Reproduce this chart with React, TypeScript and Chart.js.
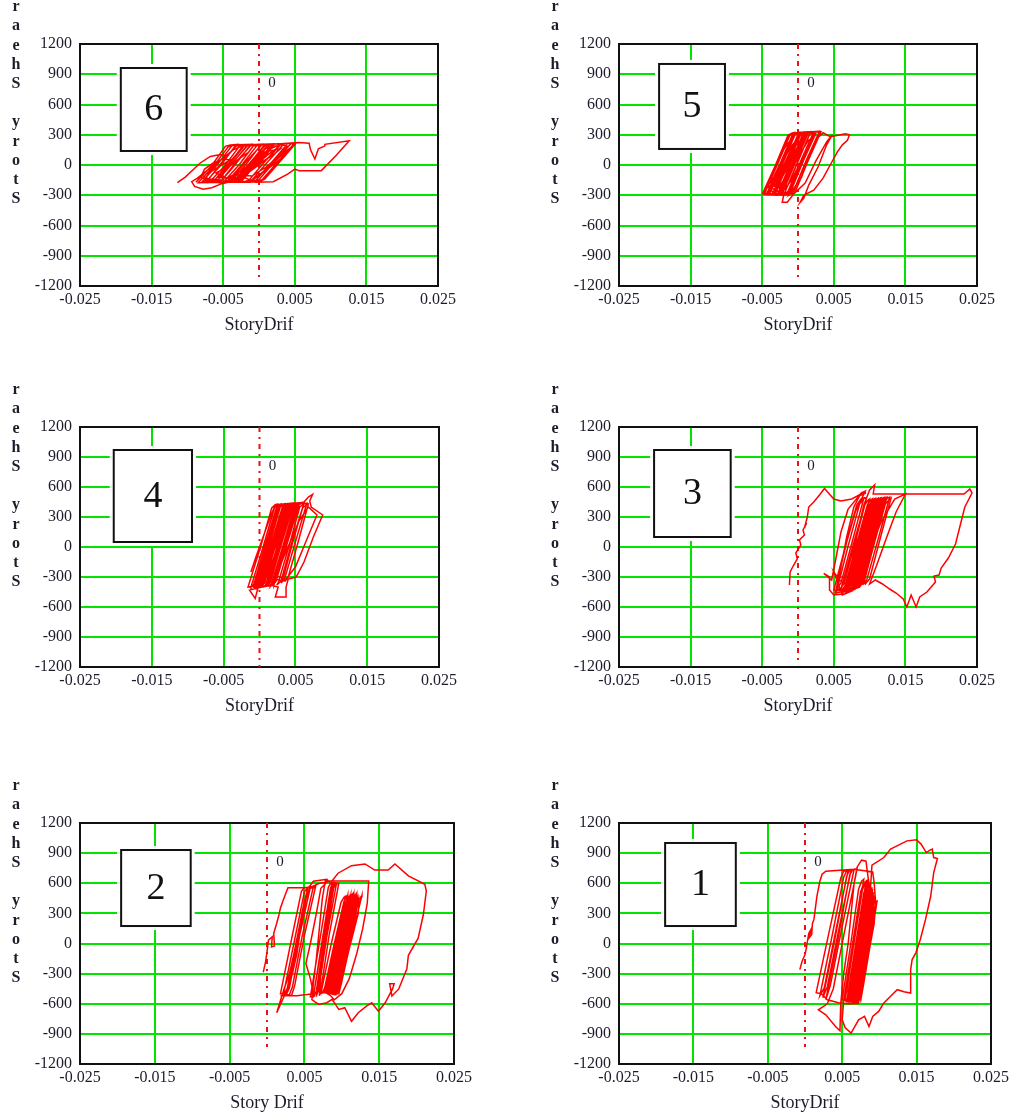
import React, { useEffect, useRef } from "react";
import { Chart, registerables } from "chart.js";

Chart.register(...registerables);

// ---------- data ----------
const driftTicks = [-0.025, -0.015, -0.005, 0.005, 0.015, 0.025];
const driftTickLabels = ["-0.025", "-0.015", "-0.005", "0.005", "0.015", "0.025"];
const shearTicks = [-1200, -900, -600, -300, 0, 300, 600, 900, 1200];
const shearTickLabels = ["-1200", "-900", "-600", "-300", "0", "300", "600", "900", "1200"];
const yAxisTitle = "Story Shear";
const markerLabel = "0";
const markerTop = 1200;

// story 6 : [drift, shear]
const loop6: [number, number][] = [
  [-0.0114, -174], [-0.0103, -120], [-0.0094, -60], [-0.0082, 20], [-0.0068, 85], [-0.0054, 105],
  [-0.0044, 90], [-0.0058, 30], [-0.0072, -50], [-0.0086, -130], [-0.0094, -165], [-0.009, -212],
  [-0.0078, -240], [-0.0066, -225], [-0.0052, -185], [-0.0034, -160], [-0.0016, -60], [0.0002, 80],
  [0.0016, 160], [0.003, 205], [0.0044, 215], [0.005, 200], [0.0034, 110], [0.001, -40],
  [-0.001, -160], [-0.0036, -172], [-0.0062, -168], [-0.0076, -145], [-0.0068, -60], [-0.0052, 60],
  [-0.0036, 150], [-0.0022, 195], [0.0, 205], [0.0022, 208], [0.0012, 120], [-0.0008, -20],
  [-0.0026, -150], [-0.0048, -175], [-0.007, -160], [-0.0082, -120], [-0.0088, -170],
  [-0.0066, -5], [-0.0047, 185], [-0.004, 198], [-0.003, 204], [-0.0052, 25], [-0.0072, -155], [-0.008, -172],
  [-0.0058, 5], [-0.0038, 190], [-0.003, 200], [-0.001, 206], [-0.0032, 30], [-0.0052, -150], [-0.0062, -168],
  [-0.007, -175], [-0.0048, -10], [-0.0028, 180], [-0.002, 196], [0.0005, 208], [-0.0018, 35], [-0.004, -150], [-0.0048, -170],
  [-0.006, -168], [-0.0038, 10], [-0.0017, 192], [-0.001, 202], [0.002, 210], [-0.0004, 25], [-0.0025, -155], [-0.0034, -172],
  [-0.005, -172], [-0.0028, 0], [-0.0008, 188], [0.0, 200], [0.0035, 212], [0.0012, 30], [-0.001, -150], [-0.0018, -170],
  [-0.004, -170], [-0.0018, 8], [0.0002, 195], [0.001, 204], [0.0045, 215], [0.0022, 35], [0.0, -145], [-0.0008, -168],
  [-0.003, -165], [-0.0008, 15], [0.0012, 198], [0.002, 206], [0.0052, 220], [0.003, 40], [0.0008, -140], [0.0, -165],
  [-0.0075, -170], [-0.0053, 0], [-0.0034, 182], [-0.0027, 196], [-0.002, 200], [-0.0042, 20], [-0.0062, -150], [-0.007, -168],
  [-0.0065, -172], [-0.0043, -5], [-0.0023, 186], [-0.0016, 198], [0.001, 205], [-0.0012, 28], [-0.0034, -148], [-0.0042, -170],
  [-0.0055, -175], [-0.0033, 5], [-0.0013, 190], [-0.0006, 200], [0.003, 210], [0.0008, 32], [-0.0014, -150], [-0.0022, -172],
  [-0.0045, -168], [-0.0023, 10], [-0.0003, 192], [0.0004, 202], [0.004, 212], [0.0018, 30], [-0.0004, -150], [-0.0012, -170],
  [-0.0035, -170], [-0.0013, 12], [0.0007, 195], [0.0014, 205], [0.005, 218], [0.0027, 38], [0.0005, -142], [-0.0003, -166],
  [-0.0085, -176], [-0.0063, -8], [-0.0043, 180], [-0.0036, 194], [-0.0015, 200], [-0.0037, 22], [-0.0058, -152], [-0.0066, -172],
  [-0.006, -170], [-0.004, 20], [-0.002, 195], [0.0015, 205], [-0.0008, 30], [-0.003, -150], [-0.0038, -168],
  [-0.0025, -165], [-0.0003, 18], [0.0017, 200], [0.0025, 208], [0.0055, 222], [0.007, 215], [0.0072, 150],
  [0.0078, 60], [0.0083, 160], [0.0092, 190], [0.0092, 205], [0.0126, 240], [0.0107, 90],
  [0.0087, -56], [0.0056, -56], [0.005, -40], [0.004, -90], [0.002, -165], [-0.0005, -172],
  [-0.0025, -110], [-0.001, 40], [0.0008, 160], [0.0026, 210], [0.004, 185], [0.0022, 60],
  [0.0004, -80], [-0.0014, -165],
  [-0.0072, -140], [-0.008, -100], [-0.0076, -40], [-0.0064, 20], [-0.005, 60], [-0.004, 50], [-0.0052, 0],
  [-0.0066, -60], [-0.0074, -120], [-0.0068, -165], [-0.005, -170], [-0.003, -120], [-0.0015, -20], [0.0, 80],
  [0.0012, 140], [0.0006, 60], [-0.001, -40], [-0.0026, -110], [-0.004, -150], [-0.002, -100], [-0.0004, 0],
  [0.0012, 100], [0.0026, 170], [0.0016, 90], [-0.0002, -10], [-0.0018, -90], [-0.0034, -140], [-0.0058, -120],
  [-0.0046, -40], [-0.003, 50], [-0.0016, 120], [-0.0028, 60], [-0.0044, -20], [-0.006, -80], [-0.0045, -130],
  [-0.0025, -60], [-0.0008, 40], [0.0008, 130], [0.003, 160], [0.002, 100], [0.0002, 20], [-0.0014, -60],
  [-0.003, -100], [-0.001, -110], [0.001, -20], [0.0028, 90], [0.004, 150], [0.003, 60], [0.0012, -40], [-0.0005, -130],
];

// story 5
const loop5: [number, number][] = [
  [-0.005, -290], [-0.0032, -10], [-0.0014, 295], [-0.0008, 318], [-0.0005, 322], [-0.0023, 40], [-0.0041, -270], [-0.0047, -292],
  [-0.0047, -288], [-0.0029, 0], [-0.0011, 300], [-0.0005, 320], [0.0002, 324], [-0.0016, 30], [-0.0034, -275], [-0.004, -295],
  [-0.0044, -292], [-0.0026, -5], [-0.0008, 298], [-0.0002, 320], [0.0008, 326], [-0.001, 25], [-0.0028, -278], [-0.0034, -296],
  [-0.004, -290], [-0.0022, 5], [-0.0004, 302], [0.0002, 322], [0.0012, 328], [-0.0006, 35], [-0.0024, -270], [-0.003, -300],
  [-0.0036, -295], [-0.0018, 0], [0.0, 305], [0.0006, 323], [0.0018, 330], [0.0, 40], [-0.0018, -265], [-0.0024, -298],
  [-0.0032, -290], [-0.0014, 10], [0.0004, 306], [0.001, 324], [0.0022, 330], [0.0004, 45], [-0.0014, -262], [-0.002, -295],
  [-0.0028, -288], [-0.001, 12], [0.0008, 308], [0.0014, 325], [0.0026, 332], [0.0008, 50], [-0.001, -260], [-0.0016, -292],
  [-0.0024, -285], [-0.0006, 15], [0.0012, 310], [0.0018, 326], [0.003, 333], [0.0012, 55], [-0.0006, -255], [-0.0012, -290],
  [-0.002, -300], [-0.0002, 0], [0.0016, 305], [0.0022, 325], [0.0032, 330], [0.0014, 40], [-0.0004, -270], [-0.0015, -370],
  [-0.0022, -370], [-0.002, -300], [-0.0048, -285], [-0.003, 20], [-0.0012, 305], [-0.0006, 320], [0.0005, 324], [-0.0013, 45],
  [-0.0031, -260], [-0.0037, -290], [-0.0042, -290], [-0.0024, 10], [-0.0006, 302], [0.0, 322], [0.0015, 328], [-0.0003, 35],
  [-0.0021, -268], [-0.0027, -296], [-0.0034, -286], [-0.0016, 18], [0.0002, 308], [0.0008, 324], [0.0024, 331], [0.0006, 48],
  [-0.0012, -258], [-0.0018, -292], [-0.0026, -290], [-0.0008, 8], [0.001, 306], [0.0016, 324], [0.003, 332], [0.0012, 45],
  [-0.0006, -262], [-0.0012, -294], [0.0005, -120], [0.0015, 80], [0.0025, 250], [0.0035, 320], [0.0045, 280], [0.0056, 295],
  [0.0066, 310], [0.0072, 300], [0.0069, 245], [0.0062, 200], [0.0055, 130], [0.0045, 0], [0.0035, -130], [0.0022, -250],
  [0.0008, -300], [0.0003, -370], [0.0008, -330], [0.0015, -200], [0.0028, -20], [0.004, 200], [0.0048, 300], [0.004, 230],
  [0.0025, 40], [0.001, -180], [-0.0005, -280], [-0.002, -300], [-0.0035, -290],
  [-0.0038, -220], [-0.003, -100], [-0.002, 50], [-0.001, 180], [-0.0002, 250], [-0.001, 150], [-0.002, 0],
  [-0.003, -150], [-0.004, -240], [-0.0032, -200], [-0.0022, -60], [-0.0012, 100], [0.0, 220], [0.001, 280],
  [0.0002, 150], [-0.0008, 0], [-0.0018, -130], [-0.0028, -230], [-0.0018, -180], [-0.0008, -40], [0.0002, 100],
  [0.0014, 240], [0.002, 270], [0.001, 120], [0.0, -20], [-0.001, -160], [-0.002, -250], [-0.003, -260],
  [-0.0042, -200], [-0.0036, -80], [-0.0026, 80], [-0.0016, 200], [-0.0006, 280], [-0.0014, 180], [-0.0024, 30],
  [-0.0034, -120], [-0.0044, -230], [-0.0026, -170], [-0.0014, -20], [-0.0004, 140], [0.0006, 260],
];

// story 4
const loop4: [number, number][] = [
  [-0.0012, -250], [-0.0005, -100], [0.0005, 100], [0.0015, 300], [0.0022, 420], [0.0035, 430],
  [0.0048, 440], [0.004, 300], [0.0028, 50], [0.0015, -200], [0.0005, -380], [-0.0016, -400],
  [0.0001, -10], [0.0017, 390], [0.0022, 422], [0.0025, 428], [0.0008, 20], [-0.0008, -375], [-0.0013, -402],
  [-0.0012, -405], [0.0005, 0], [0.0021, 395], [0.0026, 424], [0.003, 430], [0.0013, 25], [-0.0003, -370], [-0.0008, -400],
  [-0.0008, -398], [0.0009, 5], [0.0025, 400], [0.003, 425], [0.0035, 432], [0.0018, 30], [0.0002, -365], [-0.0003, -398],
  [-0.0004, -402], [0.0013, 8], [0.0029, 402], [0.0034, 426], [0.004, 434], [0.0023, 32], [0.0007, -362], [0.0002, -396],
  [0.0, -400], [0.0017, 10], [0.0033, 405], [0.0038, 428], [0.0044, 436], [0.0027, 35], [0.0011, -360], [0.0006, -395],
  [0.0004, -395], [0.0021, 12], [0.0037, 408], [0.0042, 430], [0.0048, 438], [0.0031, 40], [0.0015, -355], [0.001, -392],
  [0.0008, -392], [0.0025, 15], [0.0041, 410], [0.0046, 432], [0.0052, 440], [0.0035, 42], [0.0019, -350], [0.0014, -390],
  [0.0012, -388], [0.0029, 18], [0.0045, 412], [0.005, 434], [0.0056, 442], [0.0039, 45], [0.0023, -345], [0.0018, -386],
  [0.0016, -385], [0.0033, 20], [0.0049, 415], [0.0054, 436], [0.0062, 450], [0.0068, 500], [0.0074, 527], [0.007, 460],
  [0.0072, 400], [0.0088, 320], [0.0075, 100], [0.0062, -150], [0.0051, -300], [0.004, -320], [0.0037, -400], [0.0037, -500],
  [0.0022, -500], [0.0026, -400], [0.0015, -380], [-0.0014, -430], [-0.0006, -515], [0.0, -350], [0.001, -60], [0.0024, 380],
  [0.0029, 420], [0.0033, 425], [0.0016, 30], [0.0, -370], [-0.0006, -400], [0.0011, 8], [0.0027, 398], [0.0032, 424],
  [0.0038, 432], [0.0021, 28], [0.0005, -368], [0.0, -398], [0.0002, -398], [0.0019, 12], [0.0035, 404], [0.004, 428],
  [0.0046, 436], [0.0029, 36], [0.0013, -358], [0.0008, -394], [0.001, -390], [0.0027, 16], [0.0043, 410], [0.0048, 432],
  [0.0054, 440], [0.0037, 44], [0.0021, -348], [0.0016, -388], [0.0028, -200], [0.0042, 40], [0.0055, 260], [0.0068, 400],
  [0.008, 320], [0.0065, 60], [0.005, -200], [0.0035, -340], [0.002, -320],
  [0.002, -380], [0.0037, 25], [0.0052, 410], [0.0058, 435], [0.0062, 440], [0.0045, 45], [0.003, -340], [0.0024, -380],
  [0.0026, -360], [0.0042, 30], [0.0056, 400], [0.0062, 430], [0.0066, 438], [0.005, 50], [0.0035, -320], [0.003, -360],
  [0.0032, -340], [0.0046, 40], [0.006, 390], [0.0066, 425], [0.0068, 430], [0.0054, 55], [0.004, -300], [0.0036, -340],
  [0.001, -200], [0.002, 0], [0.0032, 250], [0.004, 330], [0.003, 150], [0.0018, -80], [0.0008, -260], [0.0, -300],
  [0.0012, -120], [0.0026, 150], [0.0036, 300], [0.0026, 100], [0.0012, -150], [-0.0004, -300], [0.0006, -150],
  [0.002, 100], [0.0034, 350], [0.0044, 400], [0.0036, 200], [0.0024, -50], [0.0014, -250],
];

// story 3
const loop3: [number, number][] = [
  [-0.0012, -380], [-0.0011, -250], [-0.0006, -180], [-0.0001, -120], [-0.0003, -60], [0.0004, 20],
  [0.0002, 70], [0.0009, 120], [0.0007, 170], [0.0012, 240], [0.0009, 190], [0.0013, 300],
  [0.0015, 400], [0.0022, 450], [0.003, 520], [0.0037, 585], [0.0045, 520], [0.005, 480],
  [0.006, 460], [0.0075, 480], [0.0088, 530], [0.0095, 540], [0.0085, 510], [0.007, 380],
  [0.006, 150], [0.0052, -150], [0.0047, -330], [0.0036, -265], [0.0044, -300], [0.0044, -430],
  [0.005, -480], [0.0062, -470], [0.0068, -380], [0.0076, -120], [0.0084, 180], [0.0092, 420],
  [0.01, 570], [0.0107, 620], [0.0105, 530], [0.015, 530], [0.0232, 530], [0.024, 580],
  [0.0243, 540], [0.0233, 400], [0.0227, 230], [0.022, 30], [0.021, -110], [0.02, -210],
  [0.0197, -280], [0.019, -290], [0.0192, -350], [0.018, -450], [0.017, -500], [0.0165, -600],
  [0.0158, -480], [0.0152, -600], [0.0147, -520], [0.0137, -460], [0.0128, -420], [0.0118, -370],
  [0.0108, -330], [0.01, -370], [0.011, -180], [0.0124, 100], [0.0137, 350], [0.015, 530],
  [0.0135, 480], [0.0116, 250], [0.01, -50], [0.0088, -330], [0.008, -420], [0.0052, -460],
  [0.006, -200], [0.0068, 100], [0.0078, 400], [0.0088, 540], [0.0094, 560], [0.008, 350],
  [0.0068, 50], [0.0058, -250], [0.0054, -420], [0.006, -420],
  [0.0077, 20], [0.0093, 420], [0.0098, 470], [0.01, 480], [0.0083, 50], [0.0067, -380], [0.0062, -420],
  [0.0064, -430], [0.0081, 10], [0.0097, 425], [0.0102, 472], [0.0104, 482], [0.0087, 45], [0.0071, -375], [0.0066, -425],
  [0.0068, -425], [0.0085, 15], [0.0101, 430], [0.0106, 475], [0.0108, 485], [0.0091, 55], [0.0075, -370], [0.007, -420],
  [0.0072, -415], [0.0089, 25], [0.0105, 432], [0.011, 478], [0.0112, 488], [0.0095, 60], [0.0079, -365], [0.0074, -415],
  [0.0076, -410], [0.0093, 30], [0.0109, 435], [0.0114, 480], [0.0116, 490], [0.0099, 62], [0.0083, -360], [0.0078, -410],
  [0.008, -405], [0.0097, 32], [0.0113, 438], [0.0118, 482], [0.012, 492], [0.0103, 65], [0.0087, -355], [0.0082, -405],
  [0.0084, -400], [0.0101, 35], [0.0117, 440], [0.0122, 485], [0.0124, 495], [0.0107, 70], [0.0091, -350], [0.0086, -400],
  [0.007, -440], [0.0087, 0], [0.0103, 418], [0.0108, 470], [0.011, 480], [0.0093, 40], [0.0077, -385], [0.0072, -430],
  [0.0078, -420], [0.0095, 20], [0.0111, 430], [0.0116, 476], [0.0118, 486], [0.0101, 52], [0.0085, -368], [0.008, -412],
  [0.0066, -450], [0.0083, -5], [0.0099, 415], [0.0104, 468], [0.0106, 478], [0.0089, 35], [0.0073, -390], [0.0068, -440],
  [0.0082, -395], [0.0099, 40], [0.0115, 442], [0.012, 486], [0.0122, 494], [0.0105, 68], [0.0089, -352], [0.0084, -398],
  [0.0074, -430], [0.0091, 10], [0.0107, 425], [0.0112, 474], [0.0114, 484], [0.0097, 48], [0.0081, -372], [0.0076, -420],
  [0.0058, -330], [0.005, -250], [0.0062, -480], [0.0075, -440],
  [0.005, -430], [0.0066, 0], [0.0082, 420], [0.0088, 480], [0.0092, 490], [0.0076, 60], [0.006, -360], [0.0054, -420],
  [0.0054, -440], [0.007, 10], [0.0086, 430], [0.0092, 485], [0.0096, 495], [0.008, 50], [0.0064, -370], [0.0058, -430],
  [0.0088, -380], [0.0104, 40], [0.012, 440], [0.0125, 490], [0.0128, 500], [0.0112, 80], [0.0096, -330], [0.009, -380],
  [0.0092, -360], [0.0107, 50], [0.0122, 430], [0.0128, 480], [0.013, 490], [0.0115, 90], [0.01, -320], [0.0094, -370],
  [0.0085, -200], [0.0095, 50], [0.0106, 300], [0.0112, 380], [0.0104, 200], [0.0092, -50], [0.0082, -280],
  [0.0076, -320], [0.0088, -100], [0.01, 150], [0.011, 330], [0.01, 120], [0.0088, -150], [0.0078, -300],
  [0.0092, -60], [0.0104, 220], [0.0114, 360], [0.0106, 180], [0.0094, -100], [0.0086, -260],
];

// story 2
const loop2: [number, number][] = [
  [-0.0005, -286], [-0.0002, -185], [0.0, -84], [0.0002, 34], [0.0007, 67], [0.0006, -34],
  [0.001, -24], [0.0009, 101], [0.0013, 202], [0.0016, 286], [0.0018, 354], [0.0022, 438],
  [0.0028, 556], [0.0065, 556], [0.0055, 560], [0.004, 50], [0.0027, -450], [0.0023, -500],
  [0.0018, -500], [0.0033, 50], [0.0046, 520], [0.005, 555], [0.0058, 562], [0.0043, 60],
  [0.003, -440], [0.0026, -505], [0.0022, -505], [0.0037, 40], [0.005, 515], [0.0054, 552],
  [0.0062, 565], [0.0047, 70], [0.0034, -430], [0.003, -510], [0.0026, -510], [0.0041, 30],
  [0.0054, 510], [0.0058, 550], [0.0065, 568], [0.005, 80], [0.0037, -420], [0.0033, -515],
  [0.0018, -520], [0.004, -520], [0.0062, -500], [0.0058, -350], [0.0052, -200], [0.0058, 0],
  [0.0066, 300], [0.0072, 550], [0.008, 610], [0.007, 600], [0.0058, 560], [0.005, 400],
  [0.0045, 150], [0.004, -100], [0.0034, -300], [0.0028, -440], [0.0013, -690], [0.0022, -470],
  [0.003, -300], [0.0036, -100], [0.0042, 120], [0.0048, 350], [0.0054, 540], [0.0062, 620],
  [0.008, 640], [0.0085, 600], [0.0088, 600], [0.0075, 50], [0.0063, -480], [0.006, -530],
  [0.0058, -530], [0.0071, 50], [0.0082, 560], [0.0085, 598], [0.009, 605], [0.0077, 60],
  [0.0066, -470], [0.0063, -525], [0.0062, -530], [0.0074, 40], [0.0085, 555], [0.0088, 595],
  [0.0093, 602], [0.008, 70], [0.0069, -465], [0.0066, -520], [0.0066, -528], [0.0078, 30],
  [0.0089, 550], [0.0092, 592], [0.0096, 600], [0.0083, 80], [0.0072, -460], [0.007, -520],
  [0.0074, -100], [0.0082, 300], [0.0087, 625], [0.0095, 700], [0.0113, 775], [0.0131, 792],
  [0.0144, 731], [0.0162, 731], [0.0171, 792], [0.0189, 674], [0.0211, 590], [0.0213, 522],
  [0.0209, 286], [0.0202, 50], [0.0198, 0], [0.0189, -118], [0.0187, -253], [0.0176, -455],
  [0.0167, -522], [0.0164, -400], [0.017, -400], [0.0168, -450], [0.0158, -590], [0.0149, -674],
  [0.014, -590], [0.0133, -623], [0.0122, -690], [0.0113, -775], [0.0104, -640], [0.0096, -657],
  [0.0087, -556], [0.008, -590], [0.0069, -607], [0.006, -560], [0.0062, -400], [0.0066, -150],
  [0.007, 150], [0.0074, 450], [0.0078, 623], [0.0136, 623], [0.0134, 400], [0.0128, 150],
  [0.012, -100], [0.011, -350], [0.01, -500], [0.009, -560], [0.0085, -520], [0.0076, -480],
  [0.009, 0], [0.0103, 420], [0.0107, 470], [0.0108, 480], [0.0094, 30], [0.0081, -420], [0.0077, -470],
  [0.008, -490], [0.0094, -10], [0.0107, 430], [0.0111, 475], [0.0112, 485], [0.0098, 40], [0.0085, -415], [0.0081, -480],
  [0.0084, -500], [0.0098, -20], [0.0111, 440], [0.0115, 480], [0.0116, 490], [0.0102, 50], [0.0089, -410], [0.0085, -490],
  [0.0088, -505], [0.0102, -30], [0.0115, 430], [0.0119, 470], [0.012, 480], [0.0106, 45], [0.0093, -400], [0.0089, -495],
  [0.0092, -510], [0.0106, -40], [0.0118, 400], [0.0121, 440], [0.0122, 450], [0.0109, 30], [0.0097, -395], [0.0093, -500],
  [0.0078, -470], [0.0092, 10], [0.0105, 410], [0.0109, 460], [0.011, 470], [0.0096, 35], [0.0083, -418], [0.0079, -475],
  [0.0082, -495], [0.0096, -5], [0.0109, 435], [0.0113, 478], [0.0114, 488], [0.01, 45], [0.0087, -412], [0.0083, -485],
  [0.0086, -500], [0.01, -25], [0.0113, 435], [0.0117, 475], [0.0118, 485], [0.0104, 48], [0.0091, -405], [0.0087, -492],
  [0.009, -508], [0.0104, -35], [0.0116, 415], [0.012, 455], [0.0121, 465], [0.0108, 38], [0.0095, -398], [0.0091, -500],
  [0.0096, -500], [0.0109, -30], [0.012, 380], [0.0123, 420], [0.0122, 300], [0.011, -50], [0.0099, -400],
  [0.0072, -500], [0.0086, 0], [0.0099, 410], [0.0103, 460], [0.0105, 470], [0.0091, 30], [0.0078, -430], [0.0074, -490],
  [0.0096, -480], [0.011, -20], [0.0122, 420], [0.0126, 470], [0.0127, 480], [0.0113, 60], [0.01, -380], [0.0097, -470],
  [0.009, -250], [0.01, 50], [0.011, 280], [0.0116, 350], [0.0108, 200], [0.0098, -50], [0.0088, -300],
  [0.0084, -380], [0.0094, -150], [0.0104, 120], [0.0112, 300], [0.0104, 100], [0.0094, -180], [0.0086, -350],
  [0.0098, -100], [0.0108, 200], [0.0118, 380], [0.011, 160], [0.01, -120], [0.0092, -320],
];

// story 1
const loop1: [number, number][] = [
  [-0.0007, -260], [-0.0004, -180], [0.0, -110], [0.0002, -40], [0.0003, 10], [0.0005, 100],
  [0.0008, 140], [0.0006, 60], [0.0009, 90], [0.001, 200], [0.0012, 240], [0.0016, 470],
  [0.002, 620], [0.0023, 690], [0.0028, 720], [0.0066, 740], [0.0091, 713], [0.0093, 600],
  [0.0095, 400], [0.0093, 200], [0.0088, 0], [0.008, -300], [0.0075, -500], [0.007, -600],
  [0.0058, -600], [0.0045, -590], [0.003, -560], [0.0022, -500], [0.0015, -490],
  [0.0032, 100], [0.0048, 650], [0.0052, 720], [0.0058, 730], [0.0042, 150], [0.0026, -440], [0.002, -520],
  [0.0036, 60], [0.0052, 660], [0.0056, 725], [0.0062, 735], [0.0046, 160], [0.003, -430], [0.0024, -540],
  [0.004, 40], [0.0056, 670], [0.006, 730], [0.0066, 740], [0.005, 170], [0.0034, -420], [0.0028, -560],
  [0.0044, 30], [0.006, 680], [0.0064, 735], [0.007, 745], [0.0054, 150], [0.0038, -450], [0.003, -600],
  [0.0018, -660], [0.0028, -710], [0.0041, -826], [0.0047, -870], [0.0048, -600], [0.0052, -300],
  [0.0058, 0], [0.0062, 300], [0.0066, 600], [0.007, 760], [0.0076, 830], [0.0082, 820],
  [0.0084, 700], [0.0088, 500], [0.009, 250], [0.0086, 0], [0.008, -250], [0.0075, -500],
  [0.007, -500], [0.0078, -200], [0.0084, 200], [0.0088, 550], [0.009, 780], [0.0106, 856],
  [0.0115, 940], [0.0137, 1022], [0.015, 1032], [0.0156, 990], [0.0163, 906], [0.0168, 930],
  [0.0171, 940], [0.0173, 856], [0.0178, 846], [0.0173, 706], [0.0169, 473], [0.0162, 240],
  [0.0155, 40], [0.0149, -93], [0.0144, -160], [0.0142, -260], [0.0142, -493], [0.0133, -480],
  [0.0124, -460], [0.0115, -526], [0.0106, -593], [0.0099, -676], [0.0091, -726], [0.0086, -826],
  [0.008, -726], [0.0072, -760], [0.0062, -893], [0.0054, -840], [0.005, -760], [0.0052, -570],
  [0.0064, 0], [0.0075, 520], [0.0079, 600], [0.0082, 620], [0.007, 50], [0.0059, -500], [0.0055, -575],
  [0.0056, -580], [0.0068, -10], [0.0079, 500], [0.0083, 580], [0.0085, 600], [0.0073, 40], [0.0062, -490], [0.0058, -578],
  [0.006, -585], [0.0072, -20], [0.0083, 480], [0.0087, 560], [0.0088, 580], [0.0076, 30], [0.0065, -480], [0.0062, -582],
  [0.0064, -590], [0.0076, -30], [0.0087, 450], [0.009, 520], [0.0091, 540], [0.008, 20], [0.0069, -470], [0.0066, -585],
  [0.0068, -595], [0.008, -40], [0.009, 400], [0.0093, 460], [0.0093, 480], [0.0083, 10], [0.0072, -460], [0.007, -590],
  [0.0054, -560], [0.0066, 10], [0.0077, 530], [0.0081, 610], [0.0084, 630], [0.0072, 60], [0.0061, -490], [0.0057, -565],
  [0.0058, -575], [0.007, 0], [0.0081, 490], [0.0085, 570], [0.0087, 590], [0.0075, 45], [0.0064, -485], [0.006, -575],
  [0.0062, -580], [0.0074, -10], [0.0085, 460], [0.0089, 540], [0.009, 560], [0.0078, 25], [0.0067, -475], [0.0064, -580],
  [0.0066, -590], [0.0078, -25], [0.0088, 430], [0.0092, 500], [0.0092, 510], [0.0081, 15], [0.007, -465], [0.0068, -588],
  [0.007, -595], [0.0081, -50], [0.0091, 380], [0.0094, 440], [0.0094, 450], [0.0084, 0], [0.0074, -455], [0.0072, -595],
  [0.005, -560], [0.0062, 20], [0.0072, 540], [0.0076, 620], [0.0079, 640], [0.0067, 70], [0.0056, -480], [0.0052, -560],
  [0.0074, -560], [0.0085, -40], [0.0094, 360], [0.0097, 420], [0.0097, 430], [0.0088, 0], [0.0078, -440], [0.0075, -560],
  [0.0068, -300], [0.0076, 0], [0.0084, 300], [0.0088, 400], [0.0082, 200], [0.0074, -100], [0.0066, -380],
  [0.0062, -450], [0.007, -200], [0.008, 150], [0.0088, 350], [0.008, 100], [0.0072, -200], [0.0064, -420],
  [0.0074, -150], [0.0084, 200], [0.0092, 330], [0.0084, 120], [0.0076, -150], [0.0068, -350],
];

// ---------- layout / style ----------
const SERIF = '"Liberation Serif", "Times New Roman", serif';
const GREEN = "#00e400";
const TEXT = "#1c1c2c";
const PAD_TOP = 44;
const PAD_RIGHT = 24;
const AXIS_W = 80;
const AXIS_H = 50;

type PanelCfg = {
  story: number;
  loop: [number, number][];
  plot: { l: number; t: number; r: number; b: number };
  box: [number, number, number, number];
  markerEnd: number;
  xTitle: string;
};

const panels: PanelCfg[] = [
  { story: 6, loop: loop6, plot: { l: 80, t: 44, r: 438, b: 286 }, box: [-0.0193, -0.0101, 962, 139], markerEnd: -1150, xTitle: "StoryDrif" },
  { story: 5, loop: loop5, plot: { l: 619, t: 44, r: 977, b: 286 }, box: [-0.0194, -0.0102, 1002, 159], markerEnd: -1150, xTitle: "StoryDrif" },
  { story: 4, loop: loop4, plot: { l: 80, t: 427, r: 439, b: 667 }, box: [-0.0203, -0.0094, 970, 50], markerEnd: -1200, xTitle: "StoryDrif" },
  { story: 3, loop: loop3, plot: { l: 619, t: 427, r: 977, b: 667 }, box: [-0.0201, -0.0094, 970, 100], markerEnd: -1160, xTitle: "StoryDrif" },
  { story: 2, loop: loop2, plot: { l: 80, t: 823, r: 454, b: 1064 }, box: [-0.0195, -0.0102, 931, 174], markerEnd: -1030, xTitle: "Story Drif" },
  { story: 1, loop: loop1, plot: { l: 619, t: 823, r: 991, b: 1064 }, box: [-0.0188, -0.0093, 1001, 174], markerEnd: -1030, xTitle: "StoryDrif" },
];

function labelFor(values: number[], labels: string[], v: number) {
  let best = 0;
  for (let i = 1; i < values.length; i++) {
    if (Math.abs(values[i] - v) < Math.abs(values[best] - v)) best = i;
  }
  return labels[best];
}

const decorPlugin = {
  id: "panelDecor",
  beforeDatasetsDraw(chart: any, _args: any, opts: any) {
    const { ctx, chartArea } = chart;
    const xs = chart.scales.x;
    const ys = chart.scales.y;
    ctx.save();
    const [d1, d2, s1, s2] = opts.box;
    const bx1 = xs.getPixelForValue(d1);
    const bx2 = xs.getPixelForValue(d2);
    const by1 = ys.getPixelForValue(s1);
    const by2 = ys.getPixelForValue(s2);
    ctx.fillStyle = "#ffffff";
    ctx.fillRect(bx1 - 4, by1 - 4, bx2 - bx1 + 8, by2 - by1 + 8);
    ctx.strokeStyle = "#111111";
    ctx.lineWidth = 2;
    ctx.strokeRect(bx1, by1, bx2 - bx1, by2 - by1);
    ctx.fillStyle = "#111111";
    ctx.font = `38px ${SERIF}`;
    ctx.textAlign = "center";
    ctx.textBaseline = "middle";
    ctx.fillText(String(opts.story), (bx1 + bx2) / 2, (by1 + by2) / 2 + 1);
    ctx.fillStyle = TEXT;
    ctx.font = `15px ${SERIF}`;
    ctx.fillText(markerLabel, xs.getPixelForValue(0) + 13, ys.getPixelForValue(810));
    ctx.strokeStyle = "#111111";
    ctx.lineWidth = 2;
    ctx.strokeRect(chartArea.left, chartArea.top, chartArea.right - chartArea.left, chartArea.bottom - chartArea.top);
    ctx.font = `bold 16px ${SERIF}`;
    ctx.fillStyle = TEXT;
    const letters = yAxisTitle.split("").reverse();
    letters.forEach((ch: string, i: number) => {
      if (ch !== " ") ctx.fillText(ch, chartArea.left - 64, chartArea.top - 37 + i * 19.2);
    });
    ctx.restore();
  },
};

function Panel({ cfg }: { cfg: PanelCfg }) {
  const ref = useRef<HTMLCanvasElement | null>(null);
  const { l, t, r, b } = cfg.plot;
  const width = AXIS_W + (r - l) + PAD_RIGHT;
  const height = PAD_TOP + (b - t) + AXIS_H;

  useEffect(() => {
    if (!ref.current) return;
    const tickFont = { family: SERIF, size: 16 };
    const chart = new Chart(ref.current, {
      type: "scatter",
      data: {
        datasets: [
          {
            data: cfg.loop.map(([x, y]) => ({ x, y })),
            showLine: true,
            borderColor: "#ff0000",
            borderWidth: 1.5,
            pointRadius: 0,
            fill: false,
            tension: 0,
          },
          {
            data: [
              { x: 0, y: markerTop },
              { x: 0, y: cfg.markerEnd },
            ],
            showLine: true,
            borderColor: "#ee1111",
            borderWidth: 2,
            borderDash: [5, 5, 2, 5],
            pointRadius: 0,
            fill: false,
          },
        ],
      },
      options: {
        animation: false,
        responsive: false,
        maintainAspectRatio: false,
        events: [],
        layout: { padding: { left: 0, top: PAD_TOP, right: PAD_RIGHT, bottom: 0 } },
        plugins: {
          legend: { display: false },
          tooltip: { enabled: false },
          panelDecor: { box: cfg.box, story: cfg.story },
        } as any,
        scales: {
          x: {
            type: "linear",
            min: -0.025,
            max: 0.025,
            afterBuildTicks: (s: any) => {
              s.ticks = driftTicks.map((v) => ({ value: v }));
            },
            afterFit: (s: any) => {
              s.height = AXIS_H;
            },
            grid: { color: GREEN, lineWidth: 2, drawTicks: false },
            border: { display: false },
            ticks: {
              callback: (v: any) => labelFor(driftTicks, driftTickLabels, Number(v)),
              font: tickFont,
              color: TEXT,
              padding: 4,
              maxRotation: 0,
              minRotation: 0,
              autoSkip: false,
            },
            title: {
              display: true,
              text: cfg.xTitle,
              font: { family: SERIF, size: 18 },
              color: TEXT,
              padding: { top: 0, bottom: 0 },
            },
          },
          y: {
            type: "linear",
            min: -1200,
            max: 1200,
            afterBuildTicks: (s: any) => {
              s.ticks = shearTicks.map((v) => ({ value: v }));
            },
            afterFit: (s: any) => {
              s.width = AXIS_W;
            },
            grid: { color: GREEN, lineWidth: 2, drawTicks: false },
            border: { display: false },
            ticks: {
              callback: (v: any) => labelFor(shearTicks, shearTickLabels, Number(v)),
              font: tickFont,
              color: TEXT,
              padding: 8,
              autoSkip: false,
            },
          },
        },
      } as any,
      plugins: [decorPlugin as any],
    });
    return () => chart.destroy();
  }, [cfg]);

  return (
    <canvas
      ref={ref}
      width={width}
      height={height}
      style={{ position: "absolute", left: l - AXIS_W, top: t - PAD_TOP, width, height }}
    />
  );
}

export default function App() {
  return (
    <div
      style={{
        position: "absolute",
        left: 0,
        top: 0,
        width: 1016,
        height: 1114,
        overflow: "hidden",
        background: "#ffffff",
      }}
    >
      {panels.map((p) => (
        <Panel key={p.story} cfg={p} />
      ))}
    </div>
  );
}
